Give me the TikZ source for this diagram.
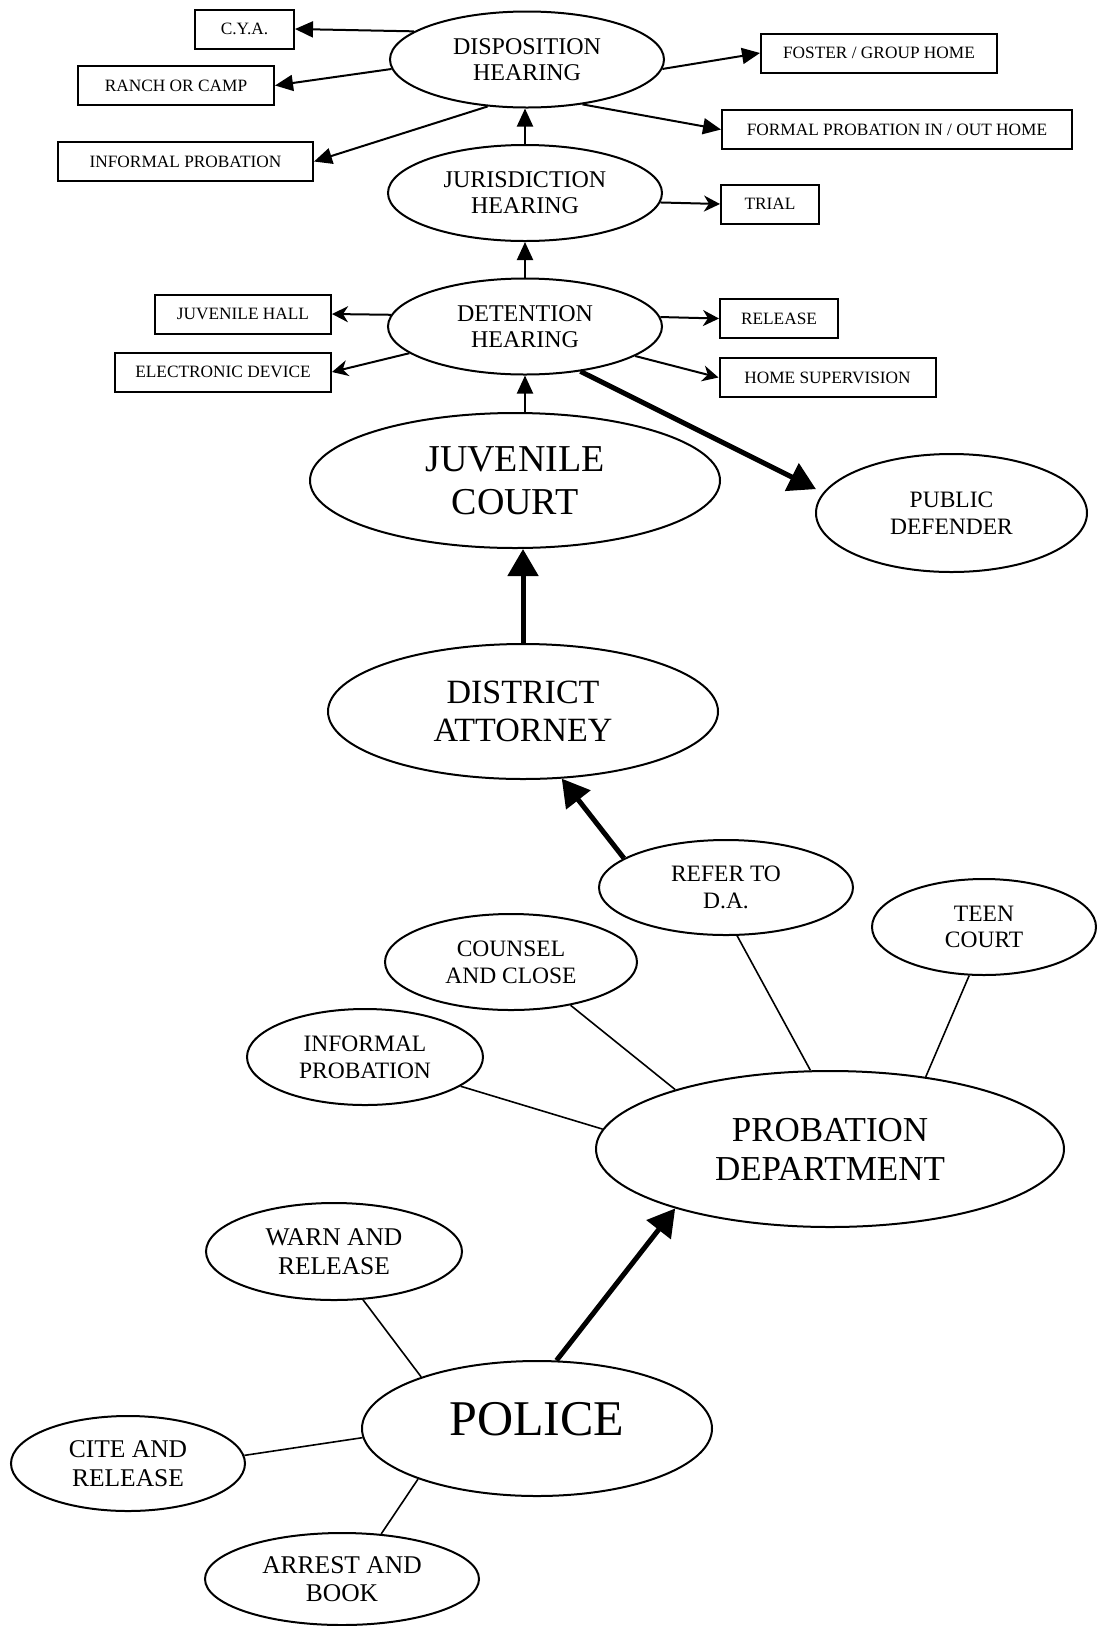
\documentclass[tikz,border=0pt]{standalone}
\usepackage{fontspec}
\setmainfont{Liberation Serif}
\usetikzlibrary{shapes.geometric}
\usetikzlibrary{arrows.meta}

\begin{document}
\begin{tikzpicture}[x=1pt, y=-1pt,
            hearingnode/.style={ellipse, draw, line width=2pt, inner sep=0pt, minimum width=274pt, minimum height=96pt, align=center, font=\fontsize{24}{26}\selectfont},
            outcomebox/.style={rectangle, draw, line width=2pt, inner sep=0pt, minimum height=39pt, font=\fontsize{17.3}{19}\selectfont},
            agencynode/.style={ellipse, draw, line width=2pt, inner sep=0pt, align=center},
            choicenode/.style={ellipse, draw, line width=2pt, inner sep=0pt, align=center, font=\fontsize{23.5}{26.7}\selectfont},
            outarrow/.style={-{Triangle[length=18pt,width=16pt]}, line width=2pt},
            detarrow/.style={-{Stealth[length=16pt,width=16pt,inset=5pt]}, line width=2pt},
            bigarrow/.style={-{Triangle[length=27pt,width=30pt]}, line width=5pt},
            spoke/.style={line width=1.6pt},
            ]
            \useasboundingbox (0,0) rectangle (1097,1626);
            \node[hearingnode] (disp) at (527,59.5) {DISPOSITION\\HEARING};
            \node[hearingnode] (juris) at (525,193) {JURISDICTION\\HEARING};
            \node[hearingnode] (det) at (525,326.5) {DETENTION\\HEARING};
            \node[outcomebox, minimum width=99pt] (cya) at (244.5,29) {C.Y.A.};
            \node[outcomebox, minimum width=196pt] (ranch) at (176,85.5) {RANCH OR CAMP};
            \node[outcomebox, minimum width=255pt] (infbox) at (185.5,161.5) {INFORMAL PROBATION};
            \node[outcomebox, minimum width=236pt] (foster) at (879,53) {FOSTER / GROUP HOME};
            \node[outcomebox, minimum width=350pt] (formal) at (897,129.5) {FORMAL PROBATION IN / OUT HOME};
            \node[outcomebox, minimum width=98pt] (trial) at (770,204) {TRIAL};
            \node[outcomebox, minimum width=176pt] (juvhall) at (243,314) {JUVENILE HALL};
            \node[outcomebox, minimum width=216pt] (edevice) at (223,372) {ELECTRONIC DEVICE};
            \node[outcomebox, minimum width=118pt] (release) at (779,318.5) {RELEASE};
            \node[outcomebox, minimum width=216pt] (homesup) at (827.5,377.5) {HOME SUPERVISION};
            \node[agencynode, minimum width=410pt, minimum height=135pt, font=\fontsize{38}{43}\selectfont] (jcourt) at (515,480.5) {JUVENILE\\COURT};
            \node[choicenode, minimum width=271pt, minimum height=118pt] (pubdef) at (951.5,513) {PUBLIC\\DEFENDER};
            \node[agencynode, minimum width=390pt, minimum height=135pt, font=\fontsize{34}{38}\selectfont] (da) at (523,711.5) {DISTRICT\\ATTORNEY};
            \node[choicenode, minimum width=254pt, minimum height=95pt] (refer) at (726,887.5) {REFER TO\\D.A.};
            \node[choicenode, minimum width=224pt, minimum height=96pt] (teen) at (984,927) {TEEN\\COURT};
            \node[choicenode, minimum width=252pt, minimum height=96pt] (counsel) at (511,962) {COUNSEL\\AND CLOSE};
            \node[choicenode, minimum width=236pt, minimum height=96pt] (infprob) at (365,1057) {INFORMAL\\PROBATION};
            \node[agencynode, minimum width=468pt, minimum height=156pt, font=\fontsize{35}{39}\selectfont] (probdept) at (830,1149) {PROBATION\\DEPARTMENT};
            \node[choicenode, minimum width=256pt, minimum height=97pt, font=\fontsize{25.5}{28.5}\selectfont] (warn) at (334,1251.5) {WARN AND\\RELEASE};
            \node[agencynode, minimum width=350pt, minimum height=135pt, text depth=20pt, font=\fontsize{50}{55}\selectfont] (police) at (537,1428.5) {POLICE};
            \node[choicenode, minimum width=234pt, minimum height=95pt, font=\fontsize{25.5}{28.5}\selectfont] (cite) at (128,1463.5) {CITE AND\\RELEASE};
            \node[choicenode, minimum width=274pt, minimum height=92pt, font=\fontsize{25.5}{28.5}\selectfont] (arrest) at (342,1579) {ARREST AND\\BOOK};
            \draw[outarrow] (disp.166) -- (cya.east);
            \draw[outarrow] (disp.184) -- (ranch.east);
            \draw[outarrow] (disp.230) -- (infbox.east);
            \draw[outarrow] (disp.356) -- (foster.west);
            \draw[outarrow] (disp.321) -- (formal.west);
            \draw[outarrow] (juris.north) -- (juris.north |- disp.south);
            \draw[detarrow] (juris.356) -- (trial.west);
            \draw[outarrow] (det.north) -- (juris.south);
            \draw[detarrow] (det.175) -- (juvhall.east);
            \draw[detarrow] (det.193) -- (edevice.east);
            \draw[detarrow] (det.4) -- (release.west);
            \draw[detarrow] (det.345) -- (homesup.west);
            \draw[outarrow] (jcourt.north -| det.south) -- (det.south);
            \draw[bigarrow, shorten >=8pt] (det.321) -- (pubdef.171);
            \draw[bigarrow] (da.north) -- (da.north |- jcourt.south);
            \draw[bigarrow] (refer.164) -- (da.300);
            \draw[spoke] (infprob.343) -- (probdept.175);
            \draw[spoke] (counsel.324) -- (probdept.159);
            \draw[spoke] (refer.283) -- (probdept.104);
            \draw[spoke] (teen.253) -- (probdept.37);
            \draw[bigarrow] (police.74) -- (probdept.201);
            \draw[spoke] (warn.301) -- (police.156);
            \draw[spoke] (cite.4) -- (police.183);
            \draw[spoke] (arrest.49) -- (police.203);
        \end{tikzpicture}
\end{document}
